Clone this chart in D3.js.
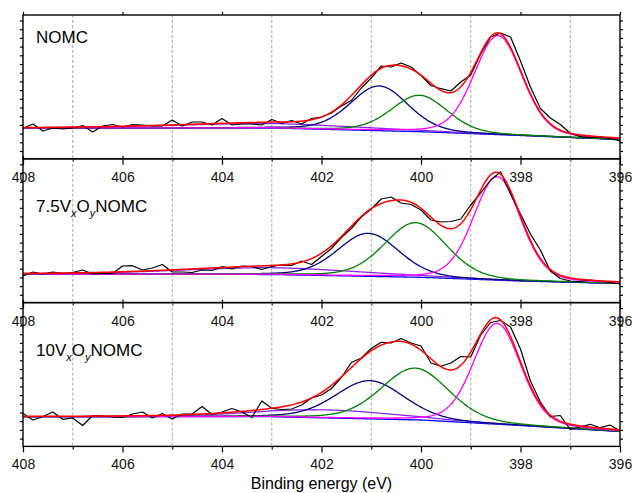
<!DOCTYPE html>
<html>
<head>
<meta charset="utf-8">
<script src="https://cdn.jsdelivr.net/npm/d3@7"></script>
<style>
  body { margin: 0; background: #fff; }
  svg { display: block; }
  text { font-family: "Liberation Sans", Arial, sans-serif; }
</style>
</head>
<body>
<svg id="chart" width="632" height="493"></svg>
<script>
// N 1s spectra, binding energy sampled every 0.2 eV from 408 to 396 eV
const energies = d3.range(0, 61).map(k => +(408 - k * 0.2).toFixed(1));

// measured counts (a.u.)
const countsNOMC = [305, 348, 278, 308, 298, 308, 333, 268, 328, 343,
  318, 343, 338, 328, 328, 388, 328, 368, 368, 338,
  403, 338, 348, 348, 338, 393, 355, 383, 348, 403,
  418, 458, 528, 583, 708, 808, 928, 918, 958, 918,
  833, 733, 701, 678, 768, 838, 1048, 1218, 1258, 1218,
  978, 718, 503, 408, 343, 255, 221, 213, 213, 203, 178];
const counts75 = [266, 306, 286, 306, 291, 301, 326, 286, 291, 291,
  366, 369, 326, 346, 381, 306, 306, 301, 326, 321,
  359, 336, 366, 361, 331, 361, 376, 371, 416, 381,
  461, 541, 651, 741, 856, 936, 1036, 1056, 996, 981,
  926, 826, 806, 811, 836, 976, 1096, 1226, 1306, 1086,
  886, 686, 526, 316, 241, 216, 211, 226, 216, 201, 186];
const counts10 = [329, 264, 299, 344, 271, 284, 209, 309, 304, 294,
  289, 324, 344, 284, 329, 274, 324, 324, 399, 319,
  344, 379, 344, 289, 454, 381, 369, 374, 414, 484,
  514, 579, 689, 839, 884, 979, 1041, 1034, 1079, 1034,
  1004, 834, 801, 834, 899, 894, 1114, 1239, 1259, 1194,
  974, 654, 444, 299, 309, 169, 194, 221, 187, 214, 154];

// background anchors (binding energy, counts)
const bgEnergy = [408, 403, 400, 398, 396];
const bgNOMC = [308, 308, 271, 233, 193];
const bg75 = [286, 281, 253, 216, 191];
const bg10 = [297, 297, 264, 209, 149];

// fitted components: [C–N/pyrrolic, graphitic-side, pyridinic, broad satellite]
const compColors = ["#000080", "#008000", "#ff00ff", "#8a2be2"];
const centersNOMC = [400.84, 400.03, 398.45, 403.0];
const heightsNOMC = [447, 364, 990, 45];
const fwhmNOMC = [1.36, 1.32, 1.14, 4.6];
const centers75 = [401.06, 400.11, 398.47, 403.0];
const heights75 = [430, 545, 1034, 68];
const fwhm75 = [1.45, 1.47, 1.12, 4.4];
const centers10 = [401.03, 400.12, 398.47, 401.9];
const heights10 = [382, 517, 1009, 80];
const fwhm10 = [1.62, 1.60, 1.12, 3.3];

const xTicksMajor = [408, 406, 404, 402, 400, 398, 396];
const xTicksMinor = [407, 405, 403, 401, 399, 397];
const xTitle = "Binding energy (eV)";

// sample label pieces: [text, isSubscript]
const labelNOMC = [["NOMC", false]];
const label75 = [["7.5V", false], ["x", true], ["O", false], ["y", true], ["NOMC", false]];
const label10 = [["10V", false], ["x", true], ["O", false], ["y", true], ["NOMC", false]];

const panels = [
  { counts: countsNOMC, bg: bgNOMC, centers: centersNOMC, heights: heightsNOMC, fwhm: fwhmNOMC, label: labelNOMC, labelDy: 27.5 },
  { counts: counts75, bg: bg75, centers: centers75, heights: heights75, fwhm: fwhm75, label: label75, labelDy: 53 },
  { counts: counts10, bg: bg10, centers: centers10, heights: heights10, fwhm: fwhm10, label: label10, labelDy: 53.4 }
];

// ---- layout ----
const svg = d3.select("#chart");
const left = 23, right = 620, top0 = 15, panelH = 143.8;
const yMax = 1438;

const x = d3.scaleLinear().domain([408, 396]).range([left, right]);

// pseudo-Voigt (Gaussian–Lorentzian sum) line shape
const mix = 0.2;
function glPeak(e, c, h, w) {
  const d2 = (e - c) * (e - c);
  const g = Math.exp(-4 * Math.LN2 * d2 / (w * w));
  const l = 1 / (1 + 4 * d2 / (w * w));
  return h * ((1 - mix) * g + mix * l);
}

const modelE = d3.range(0, 601).map(k => 408 - k * 0.02);

panels.forEach((p, i) => {
  const top = top0 + i * panelH;
  const bottom = top + panelH;
  const y = d3.scaleLinear().domain([0, yMax]).range([bottom, top]);
  const bgAt = d3.scaleLinear().domain(bgEnergy).range(p.bg);

  const g = svg.append("g");

  // dashed guides at odd energies
  g.selectAll("line.grid").data(xTicksMinor).join("line")
    .attr("x1", d => x(d)).attr("x2", d => x(d))
    .attr("y1", top).attr("y2", bottom)
    .attr("stroke", "#a8a8a8").attr("stroke-width", 1)
    .attr("stroke-dasharray", "3,2");

  const line = d3.line().x(d => x(d[0])).y(d => y(d[1]));

  // background
  g.append("path")
    .attr("d", line(modelE.map(e => [e, bgAt(e)])))
    .attr("fill", "none").attr("stroke", "#0000ff").attr("stroke-width", 1.3);

  // components drawn on the background, satellite first
  const order = [3, 0, 1, 2];
  order.forEach(j => {
    g.append("path")
      .attr("d", line(modelE.map(e => [e, bgAt(e) + glPeak(e, p.centers[j], p.heights[j], p.fwhm[j])])))
      .attr("fill", "none").attr("stroke", compColors[j]).attr("stroke-width", 1.3);
  });

  // measured spectrum
  g.append("path")
    .attr("d", line(energies.map((e, k) => [e, p.counts[k]])))
    .attr("fill", "none").attr("stroke", "#000").attr("stroke-width", 1.2)
    .attr("stroke-linejoin", "round");

  // envelope
  const envelope = modelE.map(e => {
    let s = bgAt(e);
    for (let j = 0; j < p.centers.length; j++) s += glPeak(e, p.centers[j], p.heights[j], p.fwhm[j]);
    return [e, s];
  });
  g.append("path")
    .attr("d", line(envelope))
    .attr("fill", "none").attr("stroke", "#ff0000").attr("stroke-width", 1.5);

  // axes
  const axB = g.append("g").attr("transform", `translate(0,${bottom})`)
    .call(d3.axisBottom(x).tickValues(xTicksMajor).tickSize(6).tickPadding(7).tickFormat(d3.format("d")));
  axB.selectAll("text").attr("font-size", 14).attr("font-family", "Liberation Sans, Arial, sans-serif").attr("fill", "#111");
  g.append("g").attr("transform", `translate(0,${bottom})`)
    .call(d3.axisBottom(x).tickValues(xTicksMinor).tickSize(3).tickFormat(""));
  g.append("g").attr("transform", `translate(0,${top})`)
    .call(d3.axisTop(x).tickValues(xTicksMajor).tickSize(3).tickFormat(""));

  const yTicks = d3.range(78, yMax, 87);
  g.append("g").attr("transform", `translate(${left},0)`)
    .call(d3.axisLeft(y).tickValues(yTicks).tickSize(3).tickFormat(""));
  g.append("g").attr("transform", `translate(${right},0)`)
    .call(d3.axisRight(y).tickValues(yTicks).tickSize(3).tickFormat(""));

  g.selectAll(".domain").remove();
  g.selectAll(".tick line").attr("stroke", "#000").attr("stroke-width", 1.2);

  // panel frame
  g.append("rect")
    .attr("x", left).attr("y", top).attr("width", right - left).attr("height", panelH)
    .attr("fill", "none").attr("stroke", "#000").attr("stroke-width", 1.4);

  // sample label
  const t = g.append("text").attr("x", 36).attr("y", top + p.labelDy)
    .attr("font-size", 17).attr("fill", "#000");
  let shift = 0;
  p.label.forEach(([s, sub]) => {
    const ts = t.append("tspan").text(s);
    if (sub) {
      ts.attr("font-size", 11).attr("font-style", "italic").attr("dy", 5 - shift);
      shift = 5;
    } else {
      ts.attr("dy", -shift);
      shift = 0;
    }
  });
});

svg.append("text")
  .attr("x", (left + right) / 2).attr("y", 489)
  .attr("text-anchor", "middle").attr("font-size", 16).attr("fill", "#000")
  .text(xTitle);
</script>
</body>
</html>
